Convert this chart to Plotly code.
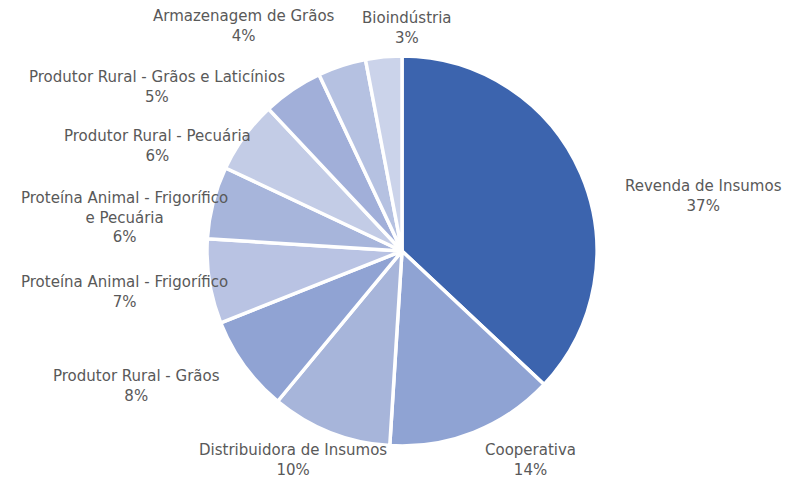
import plotly.graph_objects as go

categories = [
    "Revenda de Insumos",
    "Cooperativa",
    "Distribuidora de Insumos",
    "Produtor Rural - Grãos",
    "Proteína Animal - Frigorífico",
    "Proteína Animal - Frigorífico e Pecuária",
    "Produtor Rural - Pecuária",
    "Produtor Rural - Grãos e Laticínios",
    "Armazenagem de Grãos",
    "Bioindústria",
]
values = [37, 14, 10, 8, 7, 6, 6, 5, 4, 3]
label_text = [
    "Revenda de Insumos",
    "Cooperativa",
    "Distribuidora de Insumos",
    "Produtor Rural - Grãos",
    "Proteína Animal - Frigorífico",
    "Proteína Animal - Frigorífico<br>e Pecuária",
    "Produtor Rural - Pecuária",
    "Produtor Rural - Grãos e Laticínios",
    "Armazenagem de Grãos",
    "Bioindústria",
]

colors = ["#3C64AE", "#8FA3D3", "#A7B5DA", "#90A3D3", "#B9C3E3",
          "#A7B5DB", "#C3CCE6", "#A1AFD9", "#B5C1E1", "#CBD3EA"]

W, H = 803, 482
OFF = 8  # page body margin
# label centre positions in window pixels (layout only)
label_pos = [(703, 196.5), (530, 459.5), (293, 459.5), (136, 385.5), (124, 291.5),
             (124, 217), (157, 146), (157, 87.5), (244, 26.5), (407, 28)]

cx, cy, r = 402 - OFF, 251 - OFF, 195
fig = go.Figure(go.Pie(
    labels=categories, values=values, sort=False, direction="clockwise",
    rotation=0, textinfo="none", hoverinfo="label+percent",
    marker=dict(colors=colors, line=dict(color="white", width=3.5)),
    domain=dict(x=[(cx - r) / W, (cx + r) / W], y=[1 - (cy + r) / H, 1 - (cy - r) / H]),
    showlegend=False,
))

total = sum(values)
for txt, v, (px, py) in zip(label_text, values, label_pos):
    fig.add_annotation(
        x=(px - OFF) / W, y=1 - (py - OFF) / H, xref="paper", yref="paper",
        text=f"{txt}<br>{round(v / total * 100)}%", showarrow=False,
        xanchor="center", yanchor="middle", align="center",
        font=dict(family="DejaVu Sans", size=15, color="#595959"),
    )

fig.update_layout(width=W, height=H, margin=dict(l=0, r=0, t=0, b=0),
                  paper_bgcolor="white", plot_bgcolor="white")
fig.write_html("out.html")
